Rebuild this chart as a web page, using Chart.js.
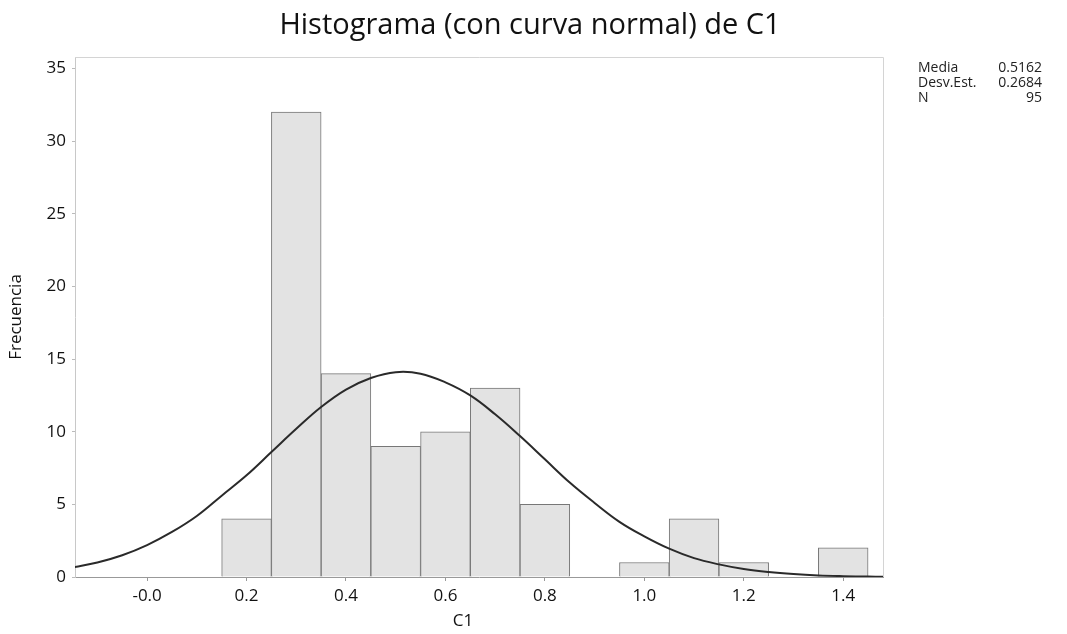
<!DOCTYPE html>
<html>
<head>
<meta charset="utf-8">
<script src="https://cdn.jsdelivr.net/npm/chart.js@4.4.0/dist/chart.umd.min.js"></script>
<style>
  html, body { margin: 0; padding: 0; background: #fff; }
  #wrap { width: 1067px; height: 634px; }
</style>
</head>
<body>
<div id="wrap"><canvas id="c"></canvas></div>
<script>
// Histogram bins (centers) and counts
const binCenters = [0.2, 0.3, 0.4, 0.5, 0.6, 0.7, 0.8, 0.9, 1.0, 1.1, 1.2, 1.3, 1.4];
const binCounts  = [4, 32, 14, 9, 10, 13, 5, 0, 1, 4, 1, 0, 2];

// Fitted normal curve
const curveX = [-0.15, -0.1, -0.05, 0.0, 0.05, 0.1, 0.15, 0.2, 0.25, 0.3, 0.35, 0.4, 0.45, 0.5,
                0.55, 0.6, 0.65, 0.7, 0.75, 0.8, 0.85, 0.9, 0.95, 1.0, 1.05, 1.1, 1.15, 1.2,
                1.25, 1.3, 1.35, 1.4, 1.45, 1.48];
const curveY = [0.65, 1.0, 1.5, 2.2, 3.1, 4.2, 5.6, 7.0, 8.6, 10.2, 11.7, 12.9, 13.7, 14.1,
                14.0, 13.4, 12.5, 11.2, 9.7, 8.1, 6.5, 5.1, 3.8, 2.8, 1.95, 1.3, 0.87, 0.55,
                0.34, 0.2, 0.11, 0.06, 0.03, 0.02];

// Axis ticks
const xTickValues = [0.0, 0.2, 0.4, 0.6, 0.8, 1.0, 1.2, 1.4];
const xTickLabels = ['-0.0', '0.2', '0.4', '0.6', '0.8', '1.0', '1.2', '1.4'];
const yTickValues = [0, 5, 10, 15, 20, 25, 30, 35];

// Summary box
const statLabels = ['Media', 'Desv.Est.', 'N'];
const statValues = ['0.5162', '0.2684', '95'];

const titleText = 'Histograma (con curva normal) de C1';
const xTitle = 'C1';
const FONT = "'Open Sans', 'Noto Sans', sans-serif";

const decorPlugin = {
    id: 'decor',
    afterDraw(chart) {
        const { ctx, chartArea: a } = chart;
        ctx.save();
        // frame (top and right edges)
        ctx.strokeStyle = '#d4d4d4';
        ctx.lineWidth = 1;
        ctx.beginPath();
        ctx.moveTo(a.left, a.top + 0.5);
        ctx.lineTo(a.right + 0.5, a.top + 0.5);
        ctx.lineTo(a.right + 0.5, a.bottom);
        ctx.stroke();

        // title
        ctx.fillStyle = '#111';
        ctx.font = '29px ' + FONT;
        ctx.textAlign = 'center';
        ctx.textBaseline = 'alphabetic';
        ctx.fillText(titleText, 530, 34);

        // x axis title (sits a little left of the plot centre in the original)
        ctx.font = '17px ' + FONT;
        ctx.textBaseline = 'middle';
        ctx.fillText(xTitle, 463, 621);

        // stats
        ctx.font = '14px ' + FONT;
        ctx.fillStyle = '#222';
        statLabels.forEach((lab, i) => {
            const y = 68 + i * 15;
            ctx.textAlign = 'left';
            ctx.fillText(lab, 918, y);
            ctx.textAlign = 'right';
            ctx.fillText(statValues[i], 1042, y);
        });
        ctx.restore();
    }
};

new Chart(document.getElementById('c'), {
    data: {
        datasets: [
            {
                type: 'line',
                data: curveX.map((x, i) => ({ x: x, y: curveY[i] })),
                borderColor: '#2a2a2a',
                borderWidth: 2,
                pointRadius: 0,
                tension: 0.4,
                fill: false,
                order: 0
            },
            {
                type: 'bar',
                data: binCenters.map((x, i) => ({ x: x, y: binCounts[i] })),
                backgroundColor: '#e3e3e3',
                borderColor: '#777',
                borderWidth: 1,
                barPercentage: 1.0,
                categoryPercentage: 1.0,
                order: 1
            }
        ]
    },
    options: {
        responsive: true,
        maintainAspectRatio: false,
        animation: false,
        layout: { padding: { top: 57, right: 184, left: 0, bottom: 0 } },
        plugins: {
            legend: { display: false },
            tooltip: { enabled: false }
        },
        scales: {
            x: {
                type: 'linear',
                offset: false,
                min: -0.145,
                max: 1.48,
                afterBuildTicks: (scale) => {
                    scale.ticks = xTickValues.map(v => ({ value: v }));
                },
                afterFit: (scale) => { scale.height = 57; },
                ticks: {
                    autoSkip: false,
                    maxRotation: 0,
                    color: '#111',
                    font: { family: FONT, size: 17 },
                    padding: 5,
                    callback: (v, i) => xTickLabels[i]
                },
                grid: { offset: false, drawOnChartArea: false, drawTicks: true, tickLength: 4, color: '#999' },
                border: { color: '#999', width: 1 }
            },
            y: {
                type: 'linear',
                min: 0,
                max: 35.8,
                afterBuildTicks: (scale) => {
                    scale.ticks = yTickValues.map(v => ({ value: v }));
                },
                afterFit: (scale) => { scale.width = 75; },
                ticks: {
                    color: '#111',
                    font: { family: FONT, size: 17 },
                    padding: 6
                },
                grid: { drawOnChartArea: false, drawTicks: true, tickLength: 3, color: '#bbb' },
                border: { color: '#c8c8c8', width: 1 },
                title: {
                    display: true,
                    text: 'Frecuencia',
                    color: '#111',
                    font: { family: FONT, size: 17 },
                    padding: { top: 6, bottom: 6 }
                }
            }
        }
    },
    plugins: [decorPlugin]
});
</script>
</body>
</html>
